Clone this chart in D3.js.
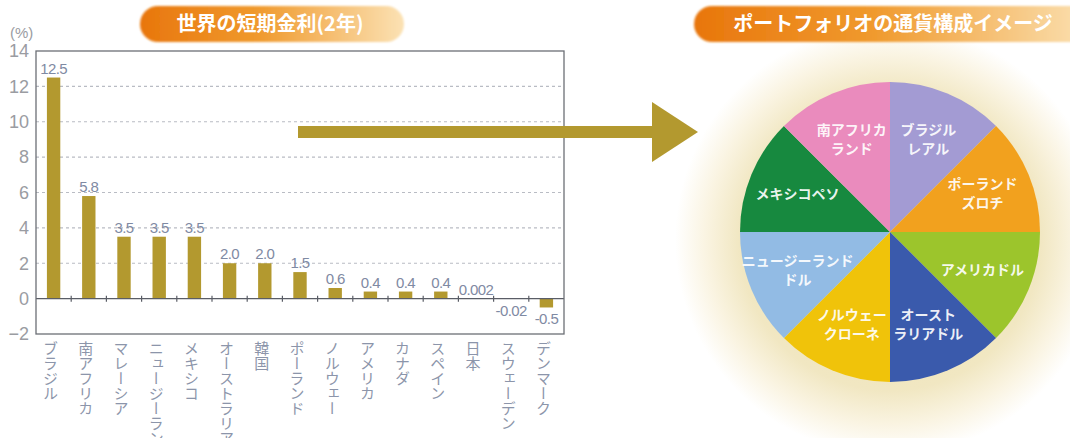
<!DOCTYPE html>
<html>
<head>
<meta charset="utf-8">
<script src="https://cdn.jsdelivr.net/npm/d3@7"></script>
<style>
  body { margin: 0; background: #fff; }
  svg { display: block; font-family: "Noto Sans CJK JP", "Noto Sans", sans-serif; }
</style>
</head>
<body>
<div id="chart"></div>
<script>
// short-term rates (2y), %
var countries = ["ブラジル", "南アフリカ", "マレーシア", "ニュージーランド", "メキシコ", "オーストラリア", "韓国", "ポーランド", "ノルウェー", "アメリカ", "カナダ", "スペイン", "日本", "スウェーデン", "デンマーク"];
var rates = [12.5, 5.8, 3.5, 3.5, 3.5, 2.0, 2.0, 1.5, 0.6, 0.4, 0.4, 0.4, 0.002, -0.02, -0.5];
var rateLabels = ["12.5", "5.8", "3.5", "3.5", "3.5", "2.0", "2.0", "1.5", "0.6", "0.4", "0.4", "0.4", "0.002", "-0.02", "-0.5"];
var yTicks = [-2, 0, 2, 4, 6, 8, 10, 12, 14];

// portfolio pie (equal image shares, clockwise from 12 o'clock)
var currencies = [["ブラジル", "レアル"], ["ポーランド", "ズロチ"], ["アメリカドル"], ["オースト", "ラリアドル"], ["ノルウェー", "クローネ"], ["ニュージーランド", "ドル"], ["メキシコペソ"], ["南アフリカ", "ランド"]];
var shares = [1, 1, 1, 1, 1, 1, 1, 1];
var sliceColors = ["#a39bd3", "#f2a11e", "#9cc52c", "#3a5aac", "#f0c30a", "#92bbe4", "#17893f", "#ea8bbd"];

var W = 1070, H = 438;
var svg = d3.select("#chart").append("svg")
            .attr("width", W)
            .attr("height", H);

var defs = svg.append("defs");

// pill gradients
function pillGrad(id) {
  var g = defs.append("linearGradient").attr("id", id);
  g.append("stop").attr("offset", "0%").attr("stop-color", "#e8760c");
  g.append("stop").attr("offset", "45%").attr("stop-color", "#f09a2e");
  g.append("stop").attr("offset", "100%").attr("stop-color", "#fbe2b4");
}
pillGrad("pillA");
pillGrad("pillB");

var soft = defs.append("filter").attr("id", "soft");
soft.append("feGaussianBlur").attr("stdDeviation", 0.8);

var glow = defs.append("radialGradient").attr("id", "glow");
glow.append("stop").attr("offset", "0%").attr("stop-color", "#ede0b0");
glow.append("stop").attr("offset", "70%").attr("stop-color", "#f1e7c2");
glow.append("stop").attr("offset", "86%").attr("stop-color", "#faf4e2");
glow.append("stop").attr("offset", "100%").attr("stop-color", "#ffffff");

// ---------- bar chart ----------
var pLeft = 36, pRight = 564, pTop = 51, pBottom = 334;

var xScale = d3.scaleBand()
               .domain(countries)
               .range([pLeft, pRight])
               .paddingInner(0.62)
               .paddingOuter(0.31);

var yScale = d3.scaleLinear()
               .domain([-2, 14])
               .range([pBottom, pTop]);

// title pill
svg.append("rect")
   .attr("x", 140).attr("y", 6)
   .attr("width", 264).attr("height", 36)
   .attr("rx", 18)
   .attr("fill", "url(#pillA)")
   .attr("filter", "url(#soft)");
svg.append("text")
   .attr("x", 270).attr("y", 31)
   .attr("text-anchor", "middle")
   .attr("fill", "#fff")
   .attr("font-size", 20)
   .attr("font-weight", "bold")
   .text("世界の短期金利(2年)");

// grid
svg.append("g")
   .selectAll("line")
   .data(yTicks.filter(function(d) { return d > 0 && d < 14; }))
   .enter()
   .append("line")
   .attr("x1", pLeft).attr("x2", pRight)
   .attr("y1", function(d) { return yScale(d); })
   .attr("y2", function(d) { return yScale(d); })
   .attr("stroke", "#b9bcc4")
   .attr("stroke-width", 1.2)
   .attr("stroke-dasharray", "3,3");

// y axis labels
var yAxis = d3.axisLeft(yScale)
              .tickValues(yTicks)
              .tickSize(0)
              .tickPadding(7);
var ya = svg.append("g")
            .attr("class", "y-axis")
            .attr("transform", "translate(" + pLeft + ",0)")
            .call(yAxis);
ya.select(".domain").remove();
ya.selectAll("text")
  .attr("fill", "#9a9ca2")
  .attr("font-size", 18)
  .attr("font-family", "Liberation Sans, Arial, sans-serif");

svg.append("text")
   .attr("x", 10).attr("y", 38)
   .attr("fill", "#9a9ca2")
   .attr("font-size", 15)
   .attr("font-family", "Liberation Sans, Arial, sans-serif")
   .text("(%)");

// bars
svg.append("g")
   .selectAll("rect")
   .data(rates)
   .enter()
   .append("rect")
   .attr("x", function(d, i) { return xScale(countries[i]); })
   .attr("y", function(d) { return yScale(Math.max(0, d)); })
   .attr("width", xScale.bandwidth())
   .attr("height", function(d) { return Math.abs(yScale(d) - yScale(0)); })
   .attr("fill", "#b3992f");

// value labels
svg.append("g")
   .selectAll("text")
   .data(rates)
   .enter()
   .append("text")
   .attr("x", function(d, i) { return xScale(countries[i]) + xScale.bandwidth() / 2; })
   .attr("y", function(d) { return d >= 0 ? yScale(d) - 4 : yScale(d) + 17; })
   .attr("text-anchor", "middle")
   .attr("fill", "#7f8aa3")
   .attr("font-size", 15)
   .attr("font-family", "Liberation Sans, Arial, sans-serif")
   .attr("letter-spacing", -0.6)
   .text(function(d, i) { return rateLabels[i]; });

// zero line + small ticks at category boundaries
svg.append("line")
   .attr("x1", pLeft).attr("x2", pRight)
   .attr("y1", yScale(0)).attr("y2", yScale(0))
   .attr("stroke", "#5a5d66")
   .attr("stroke-width", 1.4);
svg.append("g")
   .selectAll("line")
   .data(countries.slice(1))
   .enter()
   .append("line")
   .attr("x1", function(d) { return xScale(d) - xScale.step() * xScale.paddingInner() / 2; })
   .attr("x2", function(d) { return xScale(d) - xScale.step() * xScale.paddingInner() / 2; })
   .attr("y1", yScale(0) - 3).attr("y2", yScale(0) + 3)
   .attr("stroke", "#5a5d66")
   .attr("stroke-width", 1.2);

// frame
svg.append("rect")
   .attr("x", pLeft).attr("y", pTop)
   .attr("width", pRight - pLeft).attr("height", pBottom - pTop)
   .attr("fill", "none")
   .attr("stroke", "#6c6f76")
   .attr("stroke-width", 1.3);

// vertical category labels
svg.append("g")
   .selectAll("text")
   .data(countries)
   .enter()
   .append("text")
   .attr("x", function(d) { return xScale(d) + xScale.bandwidth() / 2 - 3; })
   .attr("y", pBottom + 7)
   .style("writing-mode", "vertical-rl")
   .attr("fill", "#8c95aa")
   .attr("font-size", 15)
   .text(function(d) { return d; });

// arrow
var arrowY = 132;
svg.append("rect")
   .attr("x", 298).attr("y", arrowY - 6)
   .attr("width", 358).attr("height", 12)
   .attr("fill", "#b3992f");
svg.append("path")
   .attr("d", "M652," + (arrowY - 30) + "L698," + arrowY + "L652," + (arrowY + 30) + "Z")
   .attr("fill", "#b3992f");

// ---------- pie ----------
var cx = 890, cy = 232, r = 150;

svg.append("circle")
   .attr("cx", cx).attr("cy", cy + 8)
   .attr("r", 215)
   .attr("fill", "url(#glow)");

svg.append("rect")
   .attr("x", 694).attr("y", 6)
   .attr("width", 400).attr("height", 36)
   .attr("rx", 18)
   .attr("fill", "url(#pillB)")
   .attr("filter", "url(#soft)");
svg.append("text")
   .attr("x", 893).attr("y", 31)
   .attr("text-anchor", "middle")
   .attr("fill", "#fff")
   .attr("font-size", 20)
   .attr("font-weight", "bold")
   .text("ポートフォリオの通貨構成イメージ");

var pie = d3.pie().sort(null).startAngle(0).endAngle(2 * Math.PI);
var arcs = pie(shares);
var arc = d3.arc().innerRadius(0).outerRadius(r);
var labelArc = d3.arc().innerRadius(100).outerRadius(100);

var pg = svg.append("g").attr("transform", "translate(" + cx + "," + cy + ")");

pg.selectAll("path")
  .data(arcs)
  .enter()
  .append("path")
  .attr("d", arc)
  .attr("fill", function(d, i) { return sliceColors[i]; });

var lbl = pg.selectAll("text.lbl")
            .data(arcs)
            .enter()
            .append("text")
            .attr("class", "lbl")
            .attr("transform", function(d) {
              var c = labelArc.centroid(d);
              return "translate(" + c[0] + "," + c[1] + ")";
            })
            .attr("text-anchor", "middle")
            .attr("fill", "#ffffff")
            .attr("fill-opacity", 0.92)
            .attr("font-size", 14)
            .attr("font-weight", "bold");

lbl.each(function(d, i) {
  var lines = currencies[i];
  var t = d3.select(this);
  lines.forEach(function(s, k) {
    t.append("tspan")
     .attr("x", 0)
     .attr("y", (k - (lines.length - 1) / 2) * 19 + 5)
     .text(s);
  });
});
</script>
</body>
</html>
